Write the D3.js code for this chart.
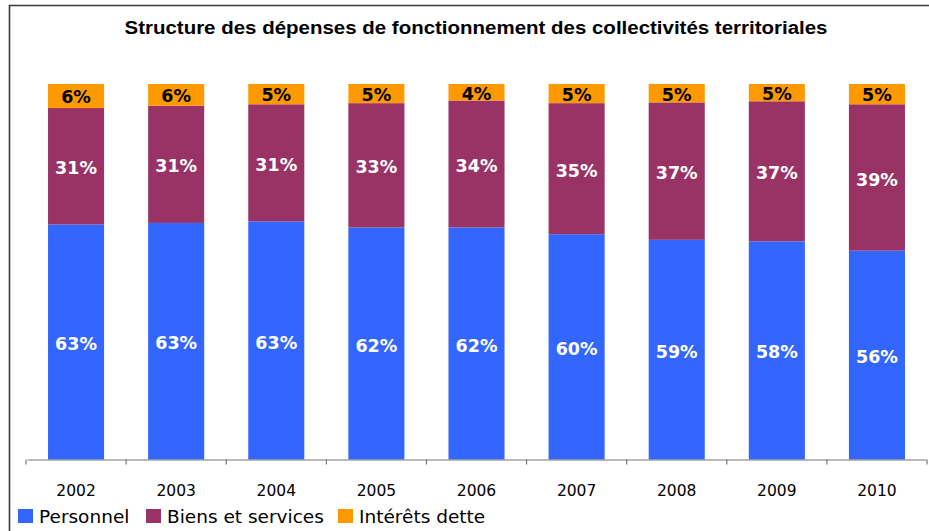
<!DOCTYPE html>
<html>
<head>
<meta charset="utf-8">
<script src="https://cdn.jsdelivr.net/npm/d3@7"></script>
<style>
  html, body { margin: 0; padding: 0; background: #fff; }
  svg { display: block; }
</style>
</head>
<body>
<svg id="chart" width="929" height="531"></svg>
<script>
const years = ["2002","2003","2004","2005","2006","2007","2008","2009","2010"];
const personnel = [62.6, 63.0, 63.4, 61.8, 61.8, 60.0, 58.5, 58.1, 55.6];
const biens     = [31.0, 31.2, 31.2, 33.1, 33.8, 34.9, 36.6, 37.3, 39.0];
const interets  = [6.4, 5.8, 5.4, 5.1, 4.4, 5.1, 4.9, 4.6, 5.4];
const seriesNames = ["Personnel", "Biens et services", "Intérêts dette"];
const seriesColors = ["#3366FF", "#993366", "#FF9900"];
const labelColors = ["#FFFFFF", "#FFFFFF", "#000000"];
const title = "Structure des dépenses de fonctionnement des collectivités territoriales";

const svg = d3.select("#chart");

// frame
svg.append("path")
  .attr("d", "M9.5,531 L9.5,5.5 L929,5.5")
  .attr("fill", "none").attr("stroke", "#3a3a3a").attr("stroke-width", 1.6);

// title
svg.append("text")
  .attr("x", 476).attr("y", 34)
  .attr("text-anchor", "middle")
  .attr("font-family", "'Liberation Sans', Arial, sans-serif")
  .attr("font-weight", "bold")
  .attr("font-size", 18)
  .attr("textLength", 703)
  .attr("lengthAdjust", "spacingAndGlyphs")
  .attr("fill", "#000")
  .text(title);

const x = d3.scaleBand().domain(years).range([27, 926]).paddingInner(0.44).paddingOuter(0.21);
const y = d3.scaleLinear().domain([0, 100]).range([459.5, 84]);

const rows = years.map((yr, i) => ({ year: yr, s0: personnel[i], s1: biens[i], s2: interets[i] }));
const stack = d3.stack().keys(["s0", "s1", "s2"]);
const layers = stack(rows);

const g = svg.append("g");
layers.forEach((layer, li) => {
  const lg = g.append("g");
  lg.selectAll("rect").data(layer).join("rect")
    .attr("x", d => x(d.data.year))
    .attr("width", x.bandwidth())
    .attr("y", d => y(d[1]))
    .attr("height", d => y(d[0]) - y(d[1]))
    .attr("fill", seriesColors[li]);
  lg.selectAll("text").data(layer).join("text")
    .attr("x", d => x(d.data.year) + x.bandwidth() / 2)
    .attr("y", d => (y(d[0]) + y(d[1])) / 2)
    .attr("dy", li === 2 ? "0.42em" : "0.46em")
    .attr("text-anchor", "middle")
    .attr("font-family", "'DejaVu Sans', Verdana, sans-serif")
    .attr("font-weight", "bold")
    .attr("font-size", 17.5)
    .attr("fill", labelColors[li])
    .text(d => Math.round(d[1] - d[0]) + "%");
});

// x axis
const axis = svg.append("g").attr("transform", "translate(0,459.5)")
  .call(d3.axisBottom(x).tickSize(0).tickSizeOuter(0));
axis.select(".domain").attr("stroke", "#777").attr("stroke-width", 1.2);
axis.selectAll(".tick text")
  .attr("y", 36).attr("dy", 0)
  .attr("font-family", "'DejaVu Sans', Verdana, sans-serif")
  .attr("font-size", 15.5)
  .attr("fill", "#000");
// boundary tick marks between categories
const bounds = years.map(yv => x(yv) - x.step() * x.paddingInner() / 2);
bounds.push(x(years[years.length - 1]) + x.bandwidth() + x.step() * x.paddingInner() / 2);
axis.selectAll("line.bt").data(bounds).join("line")
  .attr("class", "bt")
  .attr("x1", d => d).attr("x2", d => d)
  .attr("y1", 0).attr("y2", 5)
  .attr("stroke", "#777").attr("stroke-width", 1.2);

// legend
const legendItems = [
  { name: seriesNames[0], color: seriesColors[0], x: 18 },
  { name: seriesNames[1], color: seriesColors[1], x: 146 },
  { name: seriesNames[2], color: seriesColors[2], x: 338 }
];
const leg = svg.append("g");
legendItems.forEach(it => {
  leg.append("rect").attr("x", it.x).attr("y", 509).attr("width", 15).attr("height", 14).attr("fill", it.color);
  leg.append("text").attr("x", it.x + 21).attr("y", 522.5)
    .attr("font-family", "'DejaVu Sans', Verdana, sans-serif")
    .attr("font-size", 18.5)
    .attr("fill", "#000")
    .text(it.name);
});
</script>
</body>
</html>
